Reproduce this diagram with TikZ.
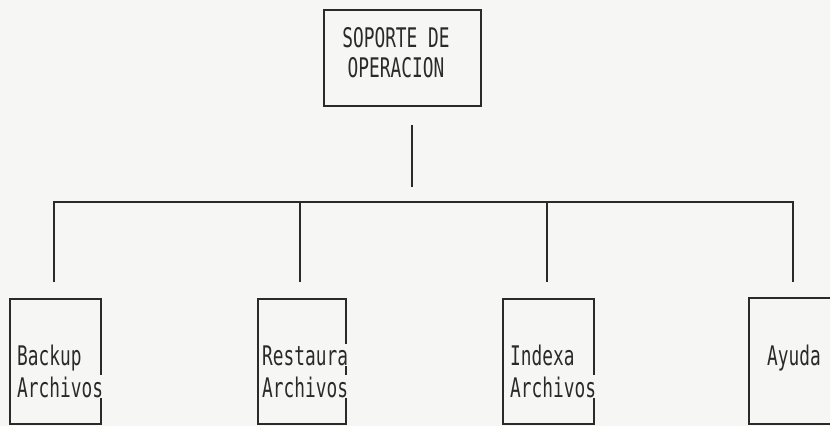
\documentclass[tikz,border=0pt]{standalone}
\usepackage{fontspec}
\newfontfamily\dotfont[FakeStretch=0.66]{DejaVu Sans Mono}
\definecolor{ink}{HTML}{2A2A2A}
\definecolor{paper}{HTML}{F6F6F4}
\begin{document}
\begin{tikzpicture}[x=1pt,y=-1pt,
  box/.style={draw=ink, line width=1.6pt, rectangle, inner sep=0pt, anchor=north west},
  conn/.style={draw=ink, line width=1.6pt},
  txt/.style={font=\dotfont\fontsize{27}{31}\selectfont, text=ink, inner sep=1pt, fill=paper},
  ttxt/.style={font=\dotfont\fontsize{27}{31}\selectfont, text=ink, inner sep=0pt}]
\clip (0,0) rectangle (830,426);
\fill[paper] (0,0) rectangle (830,426);
% top box
\node[box, minimum width=157pt, minimum height=96pt] (top) at (323,9) {};
\node[ttxt, anchor=base] (top1) at (396,47) {SOPORTE DE};
\node[ttxt, anchor=base] (top2) at (396,77) {OPERACION};
% connectors
\coordinate (s1) at (412,125);
\coordinate (s2) at (412,187);
\coordinate (j1) at (54,202);
\coordinate (j2) at (300,202);
\coordinate (j3) at (547,202);
\coordinate (j4) at (793,202);
\coordinate (e1) at (54,282);
\coordinate (e2) at (300,282);
\coordinate (e3) at (547,282);
\coordinate (e4) at (793,282);
\draw[conn] (s1) -- (s2);
\draw[conn] (e1) -- (j1) -- (j4) -- (e4);
\draw[conn] (j2) -- (e2);
\draw[conn] (j3) -- (e3);
% bottom boxes
\node[box, minimum width=91pt, minimum height=125pt] (b1) at (9,298) {};
\node[box, minimum width=88pt, minimum height=125pt] (b2) at (257,298) {};
\node[box, minimum width=91pt, minimum height=125pt] (b3) at (502,298) {};
\node[box, minimum width=120pt, minimum height=126pt] (b4) at (748,297) {};
% texts
\node[txt, anchor=base west] (b1a) at (16,365) {Backup};
\node[txt, anchor=base west] (b1b) at (16,397) {Archivos};
\node[txt, anchor=base west] (b2a) at (261,365) {Restaura};
\node[txt, anchor=base west] (b2b) at (261,397) {Archivos};
\node[txt, anchor=base west] (b3a) at (509,365) {Indexa};
\node[txt, anchor=base west] (b3b) at (509,397) {Archivos};
\node[txt, anchor=base west] (b4a) at (766,365) {Ayuda};
\end{tikzpicture}
\end{document}
